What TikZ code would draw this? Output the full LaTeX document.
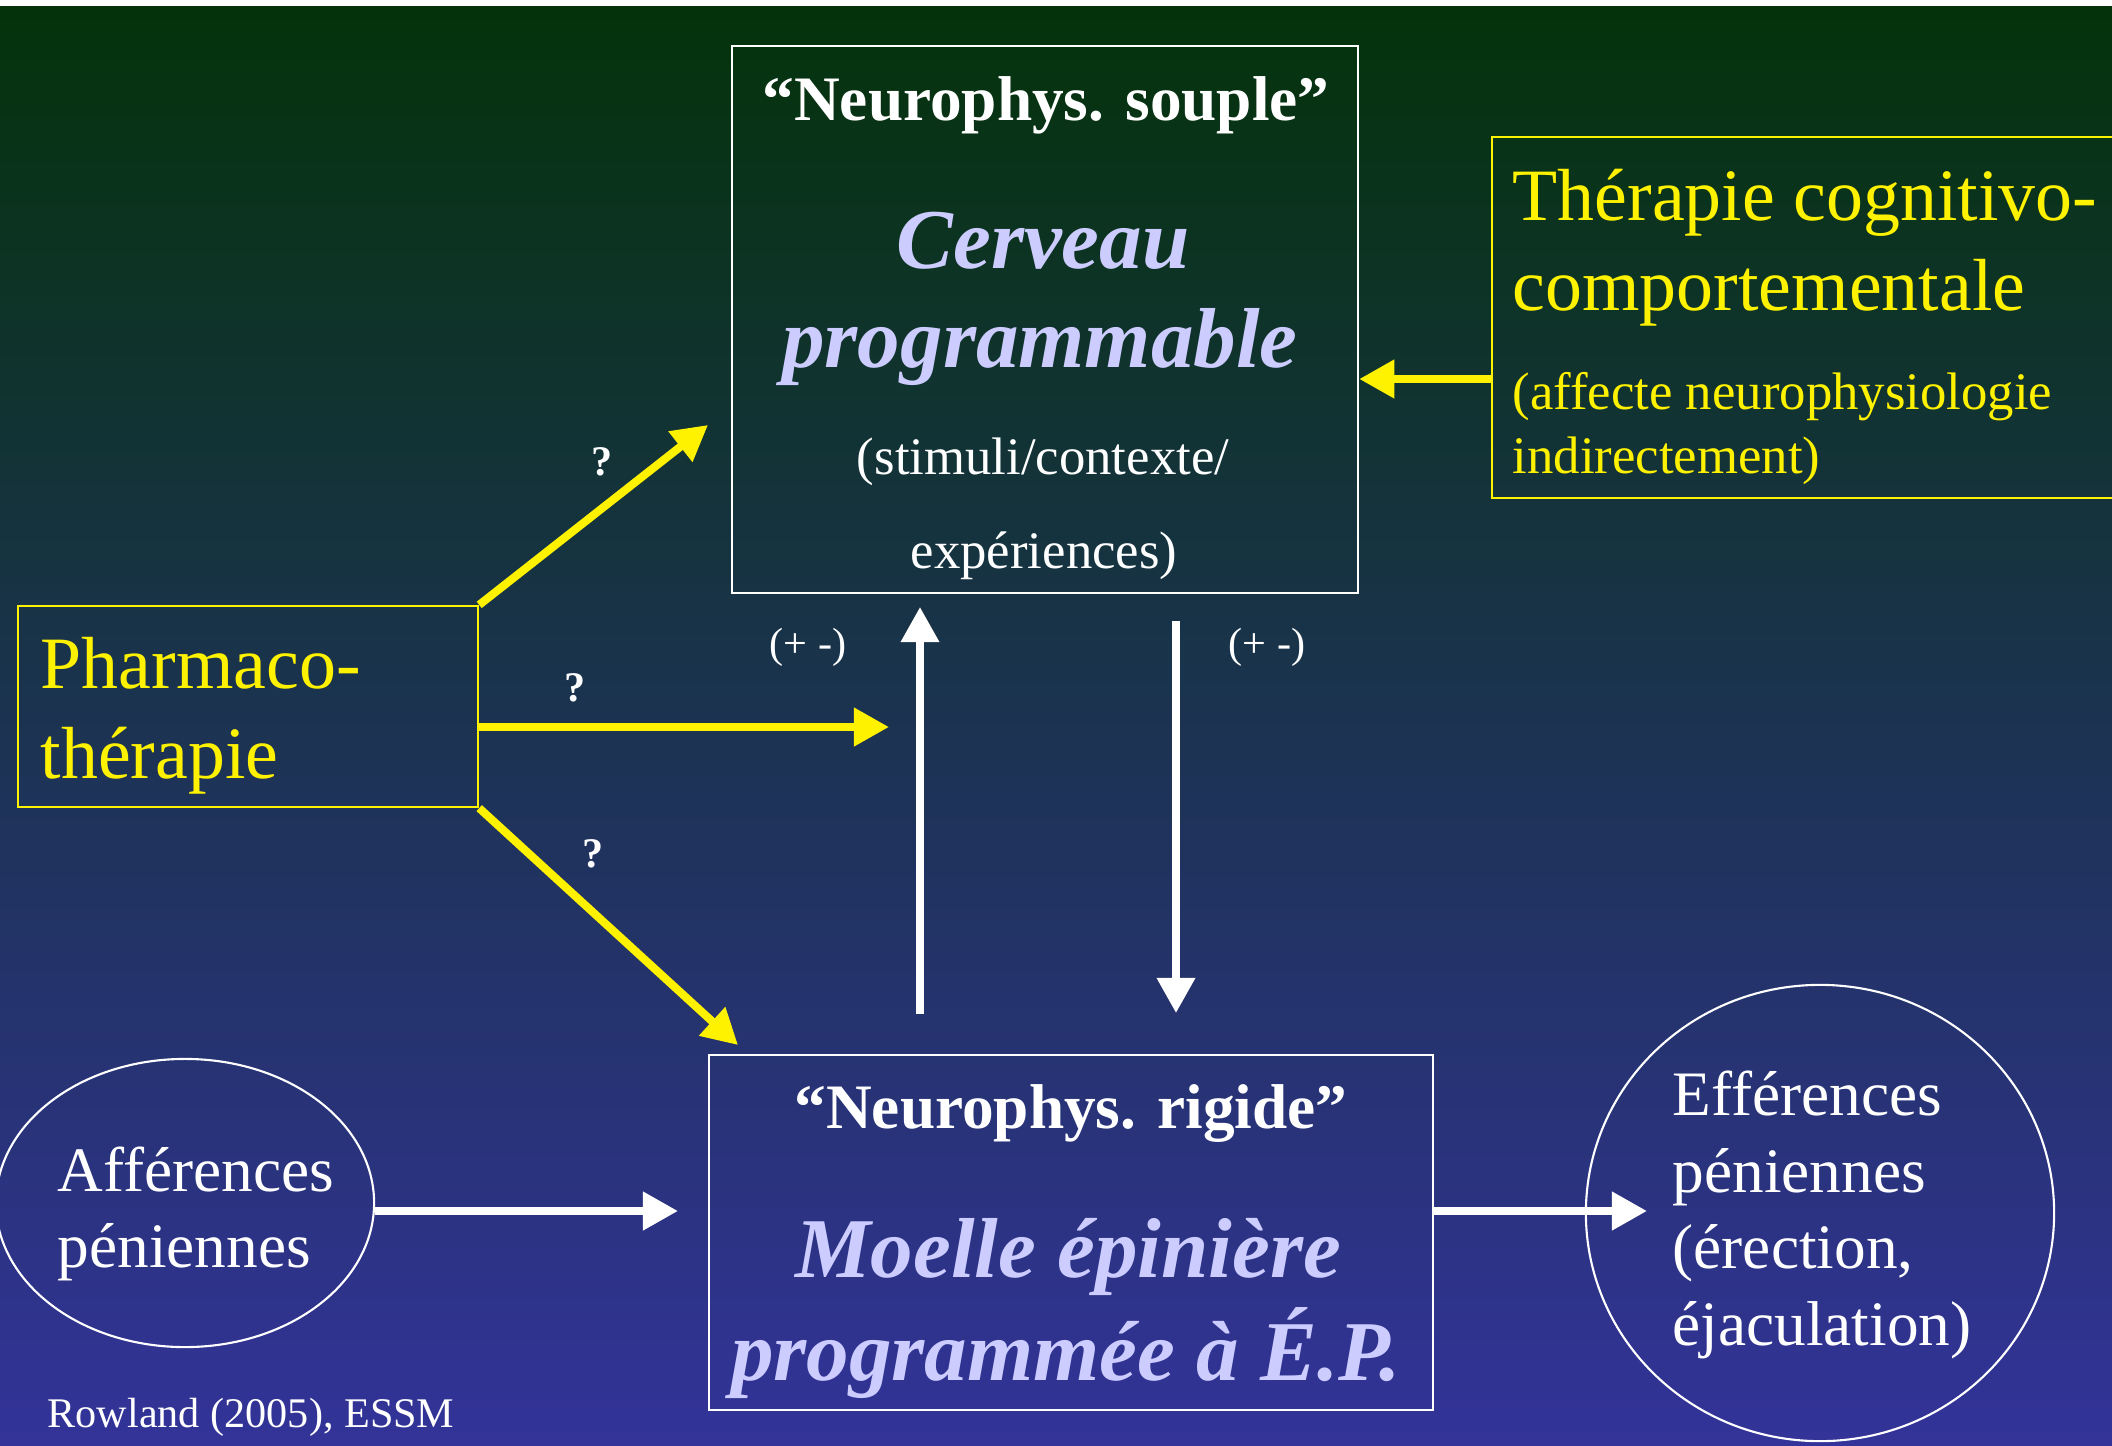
\documentclass[tikz,border=0pt]{standalone}
\usepackage{fontspec}
\setmainfont{Liberation Serif}
\usetikzlibrary{arrows.meta,positioning,shapes.geometric}
\definecolor{bgtop}{RGB}{4,51,10}
\definecolor{bgbot}{RGB}{51,51,153}
\definecolor{lavande}{RGB}{204,204,255}
\begin{document}
\begin{tikzpicture}[x=0.01cm, y=-0.01cm,
	>={Triangle[length=10pt,width=10.5pt]},
	wbox/.style={draw=white, line width=0.6pt, inner sep=0pt},
	ybox/.style={draw=yellow, line width=0.6pt, inner sep=0pt},
	oval/.style={draw=white, line width=0.6pt, ellipse, inner sep=0pt},
	arry/.style={->, draw=yellow, fill=yellow, line width=2.3pt},
	arrw/.style={->, draw=white, fill=white, line width=2.1pt},
	titre/.style={anchor=base, text=white, font=\fontsize{18}{20}\selectfont\bfseries},
	grand/.style={anchor=base, text=lavande, font=\fontsize{24.2}{28}\selectfont\bfseries\itshape},
	petit/.style={anchor=base, text=white, font=\fontsize{15}{18}\selectfont},
	jaune/.style={anchor=base west, inner sep=0pt, text=yellow, font=\fontsize{21}{24}\selectfont},
	jpetit/.style={anchor=base west, inner sep=0pt, text=yellow, font=\fontsize{15}{18}\selectfont},
	blanc/.style={anchor=base west, inner sep=0pt, text=white, font=\fontsize{18}{20}\selectfont},
	qlbl/.style={text=white, font=\fontsize{12}{14}\selectfont\bfseries},
	pmlbl/.style={text=white, font=\fontsize{12}{14}\selectfont}]
	
	\useasboundingbox (0,0) rectangle (2112,1445);
	\fill[white] (0,0) rectangle (2112,6);
	\shade[top color=bgtop, bottom color=bgbot] (0,6) rectangle (2112,1445);
	
	% Nodes
	\node[wbox, minimum width=6.26cm, minimum height=5.46cm] (cerveau) at (1045,319.5) {};
	\node[titre] (souple) at (1046,120) {“Neurophys. souple”};
	\node[grand] (cer1) at (1043,268) {Cerveau};
	\node[grand] (cer2) at (1040,367) {programmable};
	\node[petit] (cer3) at (1043,474) {(stimuli/contexte/};
	\node[petit] (cer4) at (1044,568) {expériences)};
	
	\node[ybox, minimum width=6.33cm, minimum height=3.61cm] (tcc) at (1808.5,317.5) {};
	\node[jaune] (tcc1) at (1512,220) {Thérapie cognitivo-};
	\node[jaune] (tcc2) at (1512,310) {comportementale};
	\node[jpetit] (tcc3) at (1512,409) {(affecte neurophysiologie};
	\node[jpetit] (tcc4) at (1512,473) {indirectement)};
	
	\node[ybox, minimum width=4.6cm, minimum height=2.01cm] (pharma) at (248,706.5) {};
	\node[jaune] (ph1) at (40,688) {Pharmaco-};
	\node[jaune] (ph2) at (40,778) {thérapie};
	
	\node[wbox, minimum width=7.24cm, minimum height=3.55cm] (moelle) at (1071,1232.5) {};
	\node[titre] (rigide) at (1071,1128) {“Neurophys. rigide”};
	\node[grand] (mo1) at (1068,1277) {Moelle épinière};
	\node[grand] (mo2) at (1066,1380) {programmée à É.P.};
	
	\node[oval, minimum width=3.78cm, minimum height=2.88cm] (aff) at (185,1203) {};
	\node[blanc] (aff1) at (57,1191) {Afférences};
	\node[blanc] (aff2) at (57,1267) {péniennes};
	
	\node[oval, minimum width=4.68cm, minimum height=4.56cm] (eff) at (1820,1213) {};
	\node[blanc] (eff1) at (1672,1115) {Efférences};
	\node[blanc] (eff2) at (1672,1192) {péniennes};
	\node[blanc] (eff3) at (1672,1268) {(érection,};
	\node[blanc] (eff4) at (1672,1345) {éjaculation)};
	
	\node[anchor=base west, inner sep=0pt, text=white, font=\fontsize{12}{14}\selectfont] (ref) at (47,1427) {Rowland (2005), ESSM};
	
	\node[qlbl] (q1) at (602,462) {?};
	\node[qlbl] (q2) at (575,688) {?};
	\node[qlbl] (q3) at (593,854) {?};
	\node[pmlbl] (pm1) at (808,647) {(+ -)};
	\node[pmlbl] (pm2) at (1267,647) {(+ -)};
	
	% Free ends
	\coordinate (p1) at (708,425);
	\coordinate (p2) at (889,727);
	\coordinate (p3) at (738,1045);
	\coordinate (cin) at (1400,379);
	\coordinate (hb) at (920,1014);
	\coordinate (hh) at (920,607);
	\coordinate (bh) at (1176,621);
	\coordinate (bb) at (1176,1013);
	\coordinate (a1) at (678,1211);
	\coordinate (e1) at (1647,1211);
	
	% Edges
	\draw[arry] (pharma.north east) -- (p1);
	\draw[arry] (pharma.east |- p2) -- (p2);
	\draw[arry] (pharma.south east) -- (p3);
	\draw[arry] (tcc.west |- cin) -- (cerveau.east |- cin);
	\draw[arrw] (hb) -- (hh);
	\draw[arrw] (bh) -- (bb);
	\draw[arrw, line width=2.3pt] (aff.east |- a1) -- (a1);
	\draw[arrw, line width=2.3pt] (moelle.east |- e1) -- (e1);
	
\end{tikzpicture}
\end{document}
